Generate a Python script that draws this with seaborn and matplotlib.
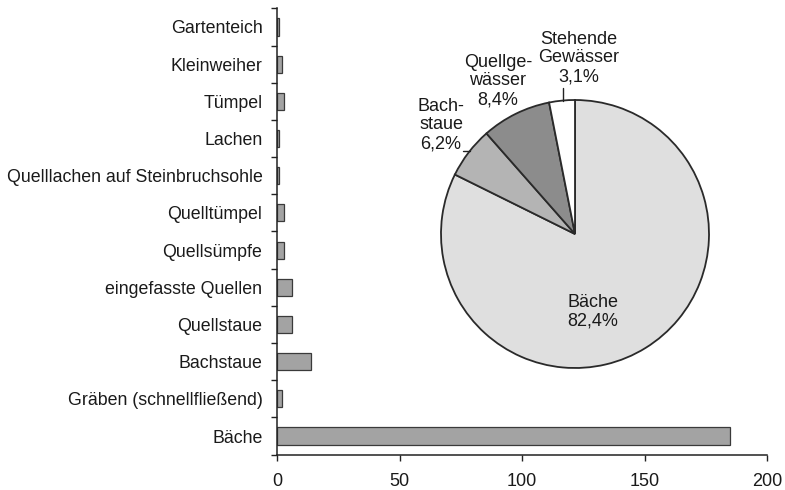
import matplotlib
matplotlib.use("Agg")
import matplotlib.pyplot as plt
import seaborn as sns
import numpy as np
import pandas as pd

# ---- data ----
categories = ["Gartenteich", "Kleinweiher", "Tümpel", "Lachen",
              "Quelllachen auf Steinbruchsohle", "Quelltümpel", "Quellsümpfe",
              "eingefasste Quellen", "Quellstaue", "Bachstaue",
              "Gräben (schnellfließend)", "Bäche"]
counts = [1, 2, 3, 1, 1, 3, 3, 6, 6, 14, 2, 185]
x_ticks = [0, 50, 100, 150, 200]

pie_labels = ["Bäche\n82,4%", "Bach-\nstaue\n6,2%", "Quellge-\nwässer\n8,4%",
              "Stehende\nGewässer\n3,1%"]
pie_values = [82.4, 6.2, 8.4, 3.1]
pie_colors = ["#dfdfdf", "#b4b4b4", "#8c8c8c", "#ffffff"]

sns.set_theme(style="white")
plt.rcParams['font.family'] = ['Liberation Sans', 'DejaVu Sans']

W, H = 785, 490
fig = plt.figure(figsize=(W / 100, H / 100), dpi=100)

# bar axes
axL, axR, axT, axB = 277, 767, 8.4, 454.6
ax = fig.add_axes([axL / W, 1 - axB / H, (axR - axL) / W, (axB - axT) / H])
df = pd.DataFrame({"cat": categories, "n": counts})
sns.barplot(data=df, x="n", y="cat", orient="h", color="#a3a3a3",
            edgecolor="#3a3a3a", linewidth=0.9, width=0.46, ax=ax,
            saturation=1)
ax.set_xlim(0, 200)
ax.set_ylim(len(categories) - 0.5, -0.5)
ax.set_xlabel("")
ax.set_ylabel("")
ax.set_xticks(x_ticks)
ax.set_xticklabels([str(t) for t in x_ticks], fontsize=13)
ax.set_yticks(range(len(categories)))
ax.set_yticklabels(categories, fontsize=12.8, color="#1a1a1a")
ax.set_yticks(np.arange(-0.5, len(categories) + 0.5, 1), minor=True)
ax.tick_params(axis="y", which="major", length=0, pad=10.5)
ax.tick_params(axis="y", which="minor", length=4.5, width=1, color="#222222", left=True)
ax.tick_params(axis="x", which="major", length=4.5, width=1, color="#222222",
               bottom=True, pad=8.5, labelcolor="#1a1a1a")
for s in ["top", "right"]:
    ax.spines[s].set_visible(False)
for s in ["left", "bottom"]:
    ax.spines[s].set_color("#222222")
    ax.spines[s].set_linewidth(1.1)
ax.grid(False)

# pie axes
cx, cy, r = 575, 234, 134
pax = fig.add_axes([(cx - r) / W, 1 - (cy + r) / H, 2 * r / W, 2 * r / H])
pax.pie(pie_values, colors=pie_colors, startangle=90, counterclock=False,
        wedgeprops=dict(edgecolor="#2a2a2a", linewidth=1.3))
pax.set_xlim(-1, 1)
pax.set_ylim(-1, 1)
pax.set_aspect("equal")
pax.axis("off")


def P(px, py):
    return ((px - cx) / r, (cy - py) / r)


fs = 13
ls = 1.15
tc = "#1a1a1a"
pax.text(*P(593, 312), pie_labels[0], ha="center", va="center", fontsize=fs,
         linespacing=ls, color=tc)
pax.text(*P(441, 125), pie_labels[1], ha="center", va="center", fontsize=fs,
         linespacing=ls, color=tc)
pax.text(*P(498, 81), pie_labels[2], ha="center", va="center", fontsize=fs,
         linespacing=ls, color=tc)
pax.text(*P(579, 58), pie_labels[3], ha="center", va="center", fontsize=fs,
         linespacing=ls, color=tc)
# leader lines
x0, y0 = P(463, 151)
x1, y1 = P(470, 151)
pax.plot([x0, x1], [y0, y1], color="#222222", lw=1, clip_on=False)
x0, y0 = P(563, 88)
x1, y1 = P(563, 101)
pax.plot([x0, x1], [y0, y1], color="#222222", lw=1, clip_on=False)

fig.savefig("out.png", dpi=100)
